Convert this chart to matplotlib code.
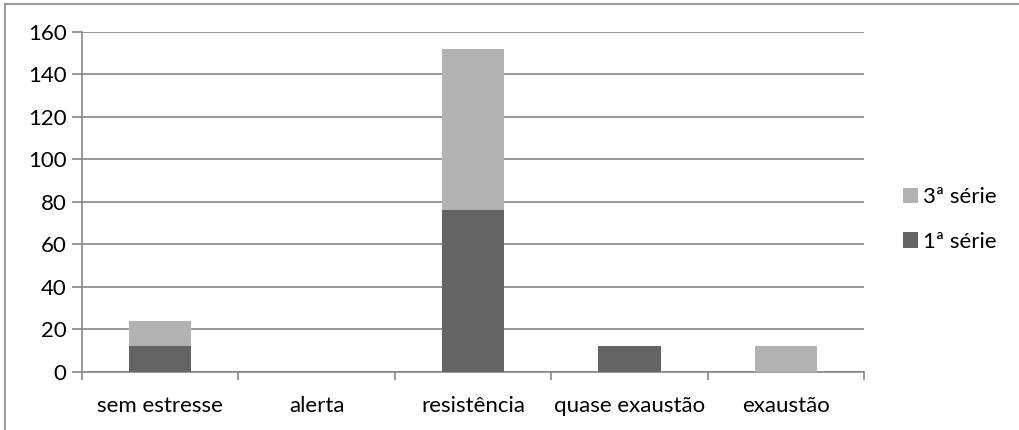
import matplotlib.pyplot as plt
import numpy as np

categories = ['sem estresse', 'alerta', 'resistência', 'quase exaustão', 'exaustão']
serie1 = [12, 0, 76, 12, 0]
serie3 = [12, 0, 76, 0, 12]

plt.rcParams['font.family'] = ['Lato', 'DejaVu Sans']

fig = plt.figure(figsize=(10.2, 4.3), dpi=100)
ax = fig.add_axes([0.0804, 0.1349, 0.7667, 0.7907])

# thin frame lines at top and left (like the original screenshot edge)
fig.add_artist(plt.Line2D([0.005, 1.0], [0.991, 0.991], color='#9a9a9a', lw=1.5))
fig.add_artist(plt.Line2D([0.005, 0.005], [0.0, 0.991], color='#9a9a9a', lw=1.5))

x = np.arange(len(categories))
b1 = ax.bar(x, serie1, width=0.4, color='#646464', label='1ª série', zorder=3)
b3 = ax.bar(x, serie3, width=0.4, bottom=serie1, color='#b2b2b2', label='3ª série', zorder=3)

ax.set_xlim(-0.5, len(categories) - 0.5)
ax.set_ylim(0, 160)
ax.set_yticks(range(0, 161, 20))
ax.yaxis.grid(True, color='#878787', lw=1.2, zorder=0)
ax.set_axisbelow(True)

ax.set_xticks(x)
ax.set_xticklabels(categories, fontsize=16)
ax.tick_params(axis='x', length=0, pad=17)
ax.set_xticks(np.arange(-0.5, len(categories)), minor=True)
ax.tick_params(axis='x', which='minor', length=6, color='#878787', width=1.2)
ax.tick_params(axis='y', labelsize=16, length=7, color='#878787', width=1.2, pad=4)

for s in ['top', 'right']:
    ax.spines[s].set_visible(False)
for s in ['left', 'bottom']:
    ax.spines[s].set_color('#878787')
    ax.spines[s].set_linewidth(1.2)

ax.legend(handles=[b3, b1], loc='center left', bbox_to_anchor=(0.885, 0.4895),
          bbox_transform=fig.transFigure, borderpad=0, borderaxespad=0,
          frameon=False, fontsize=16, handlelength=0.68, handleheight=0.68,
          handletextpad=0.25, labelspacing=1.1)

fig.savefig('out.png', dpi=100)
